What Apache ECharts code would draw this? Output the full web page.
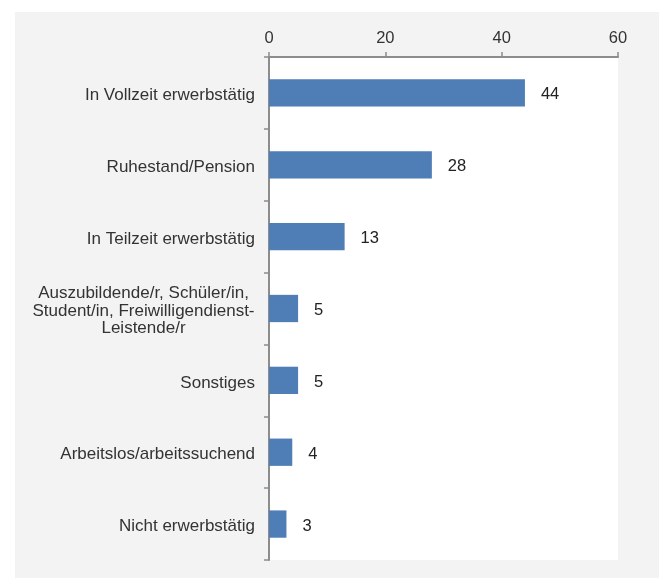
<!DOCTYPE html>
<html>
<head>
<meta charset="utf-8">
<script src="https://cdn.jsdelivr.net/npm/echarts@6/dist/echarts.min.js"></script>
<style>
  html, body { margin: 0; padding: 0; background: #ffffff; }
  #panel { position: absolute; left: 15px; top: 12px; width: 644px; height: 566px; background: #f2f3f2; }
  #chart { position: absolute; left: 0; top: 0; width: 659px; height: 580px; }
</style>
</head>
<body>
<div id="panel"></div>
<div id="chart"></div>
<script>
// Erwerbsstatus, Anteile in Prozent
const categories = [
  'In Vollzeit erwerbstätig',
  'Ruhestand/Pension',
  'In Teilzeit erwerbstätig',
  'Auszubildende/r, Schüler/in,\nStudent/in, Freiwilligendienst-\nLeistende/r',
  'Sonstiges',
  'Arbeitslos/arbeitssuchend',
  'Nicht erwerbstätig'
];
const values = [44, 28, 13, 5, 5, 4, 3];
const valueTicks = [0, 20, 40, 60];

const FONT = '"Liberation Sans", Arial, sans-serif';
const LABEL_SIZE = 17;
const NUM_SIZE = 16.5;

// width of the widest line of a label, so multi-line labels can be centred as a block
const ctx = document.createElement('canvas').getContext('2d');
ctx.font = LABEL_SIZE + 'px ' + FONT;
function blockWidth(text) {
  return Math.ceil(Math.max(...text.split('\n').map(l => ctx.measureText(l).width)));
}

const chart = echarts.init(document.getElementById('chart'), null, { renderer: 'canvas' });

chart.setOption({
  backgroundColor: 'transparent',
  animation: false,
  grid: {
    left: 269, right: 41, top: 57, bottom: 20,
    show: true, backgroundColor: '#ffffff', borderWidth: 0
  },
  xAxis: {
    type: 'value',
    position: 'top',
    min: valueTicks[0],
    max: valueTicks[valueTicks.length - 1],
    interval: valueTicks[1] - valueTicks[0],
    axisLine: { show: true, lineStyle: { color: '#8c8c8c', width: 2 } },
    axisTick: { show: true, length: 5, lineStyle: { color: '#8c8c8c', width: 1.5 } },
    axisLabel: { margin: 10, fontFamily: FONT, fontSize: NUM_SIZE, color: '#333333' },
    splitLine: { show: false }
  },
  yAxis: {
    type: 'category',
    inverse: true,
    data: categories,
    axisLine: { show: true, lineStyle: { color: '#8c8c8c', width: 2 } },
    axisTick: { show: true, length: 5, lineStyle: { color: '#8c8c8c', width: 1.5 } },
    axisLabel: {
      margin: 14,
      fontFamily: FONT,
      fontSize: LABEL_SIZE,
      color: '#333333',
      lineHeight: 17.5,
      padding: [5, 0, 0, 0],
      formatter: function (v) {
        if (v.indexOf('\n') < 0) return v;
        return v.split('\n').map(l => '{c|' + l + '}').join('\n');
      },
      rich: {
        c: {
          width: blockWidth(categories[3]),
          align: 'center',
          fontFamily: FONT,
          fontSize: LABEL_SIZE,
          color: '#333333',
          lineHeight: 17.5
        }
      }
    }
  },
  series: [{
    type: 'bar',
    data: values,
    barCategoryGap: '62%',
    itemStyle: { color: '#4f7db5' },
    label: {
      show: true,
      position: 'right',
      distance: 16,
      offset: [0, 2],
      fontFamily: FONT,
      fontSize: NUM_SIZE,
      color: '#222222'
    }
  }]
});
</script>
</body>
</html>
